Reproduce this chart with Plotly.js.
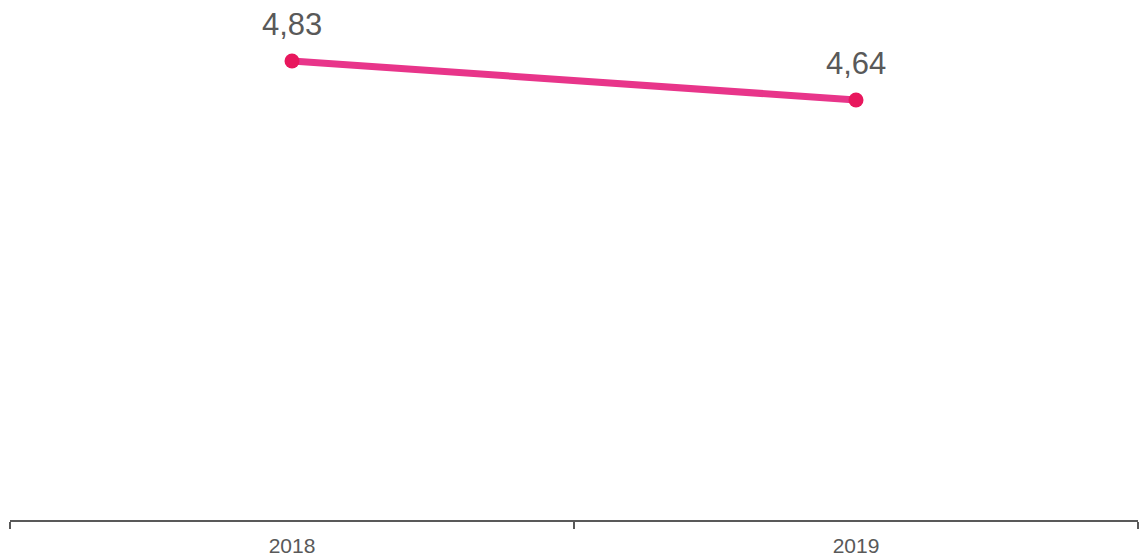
<!DOCTYPE html>
<html>
<head>
<meta charset="utf-8">
<script src="https://cdn.plot.ly/plotly-3.0.1.min.js"></script>
<style>html,body{margin:0;padding:0;background:#fff;}#chart{width:1140px;height:558px;}</style>
</head>
<body>
<div id="chart"></div>
<script>
const years = ["2018", "2019"];
const values = [4.83, 4.64];
const labels = ["4,83", "4,64"];

const trace = {
  x: years,
  y: values,
  type: "scatter",
  mode: "lines+markers",
  line: {color: "#e8358a", width: 7},
  marker: {color: "#e8175d", size: 15},
  cliponaxis: false,
  hoverinfo: "none"
};

const annotations = years.map((yr, i) => ({
  x: i,
  y: values[i],
  xref: "x",
  yref: "y",
  text: labels[i],
  showarrow: false,
  xanchor: "center",
  yanchor: "middle",
  yshift: 36,
  font: {family: "Liberation Sans, Arial, sans-serif", size: 31, color: "#595959"}
}));

const layout = {
  width: 1140,
  height: 558,
  margin: {l: 10, r: 2, t: 0, b: 38},
  paper_bgcolor: "#fff",
  plot_bgcolor: "#fff",
  showlegend: false,
  font: {family: "Liberation Sans, Arial, sans-serif", color: "#595959"},
  annotations: annotations,
  xaxis: {
    type: "category",
    range: [-0.5, 1.5],
    tickson: "boundaries",
    ticks: "outside",
    ticklen: 7,
    tickwidth: 1.5,
    tickcolor: "#595959",
    showline: true,
    linecolor: "#595959",
    linewidth: 1.5,
    showgrid: false,
    zeroline: false,
    ticklabelstandoff: 6,
    tickfont: {size: 21, color: "#595959"},
    fixedrange: true
  },
  yaxis: {
    range: [2.594, 5.127],
    visible: false,
    showgrid: false,
    zeroline: false,
    fixedrange: true
  }
};

Plotly.newPlot("chart", [trace], layout, {displayModeBar: false, staticPlot: true});
</script>
</body>
</html>
